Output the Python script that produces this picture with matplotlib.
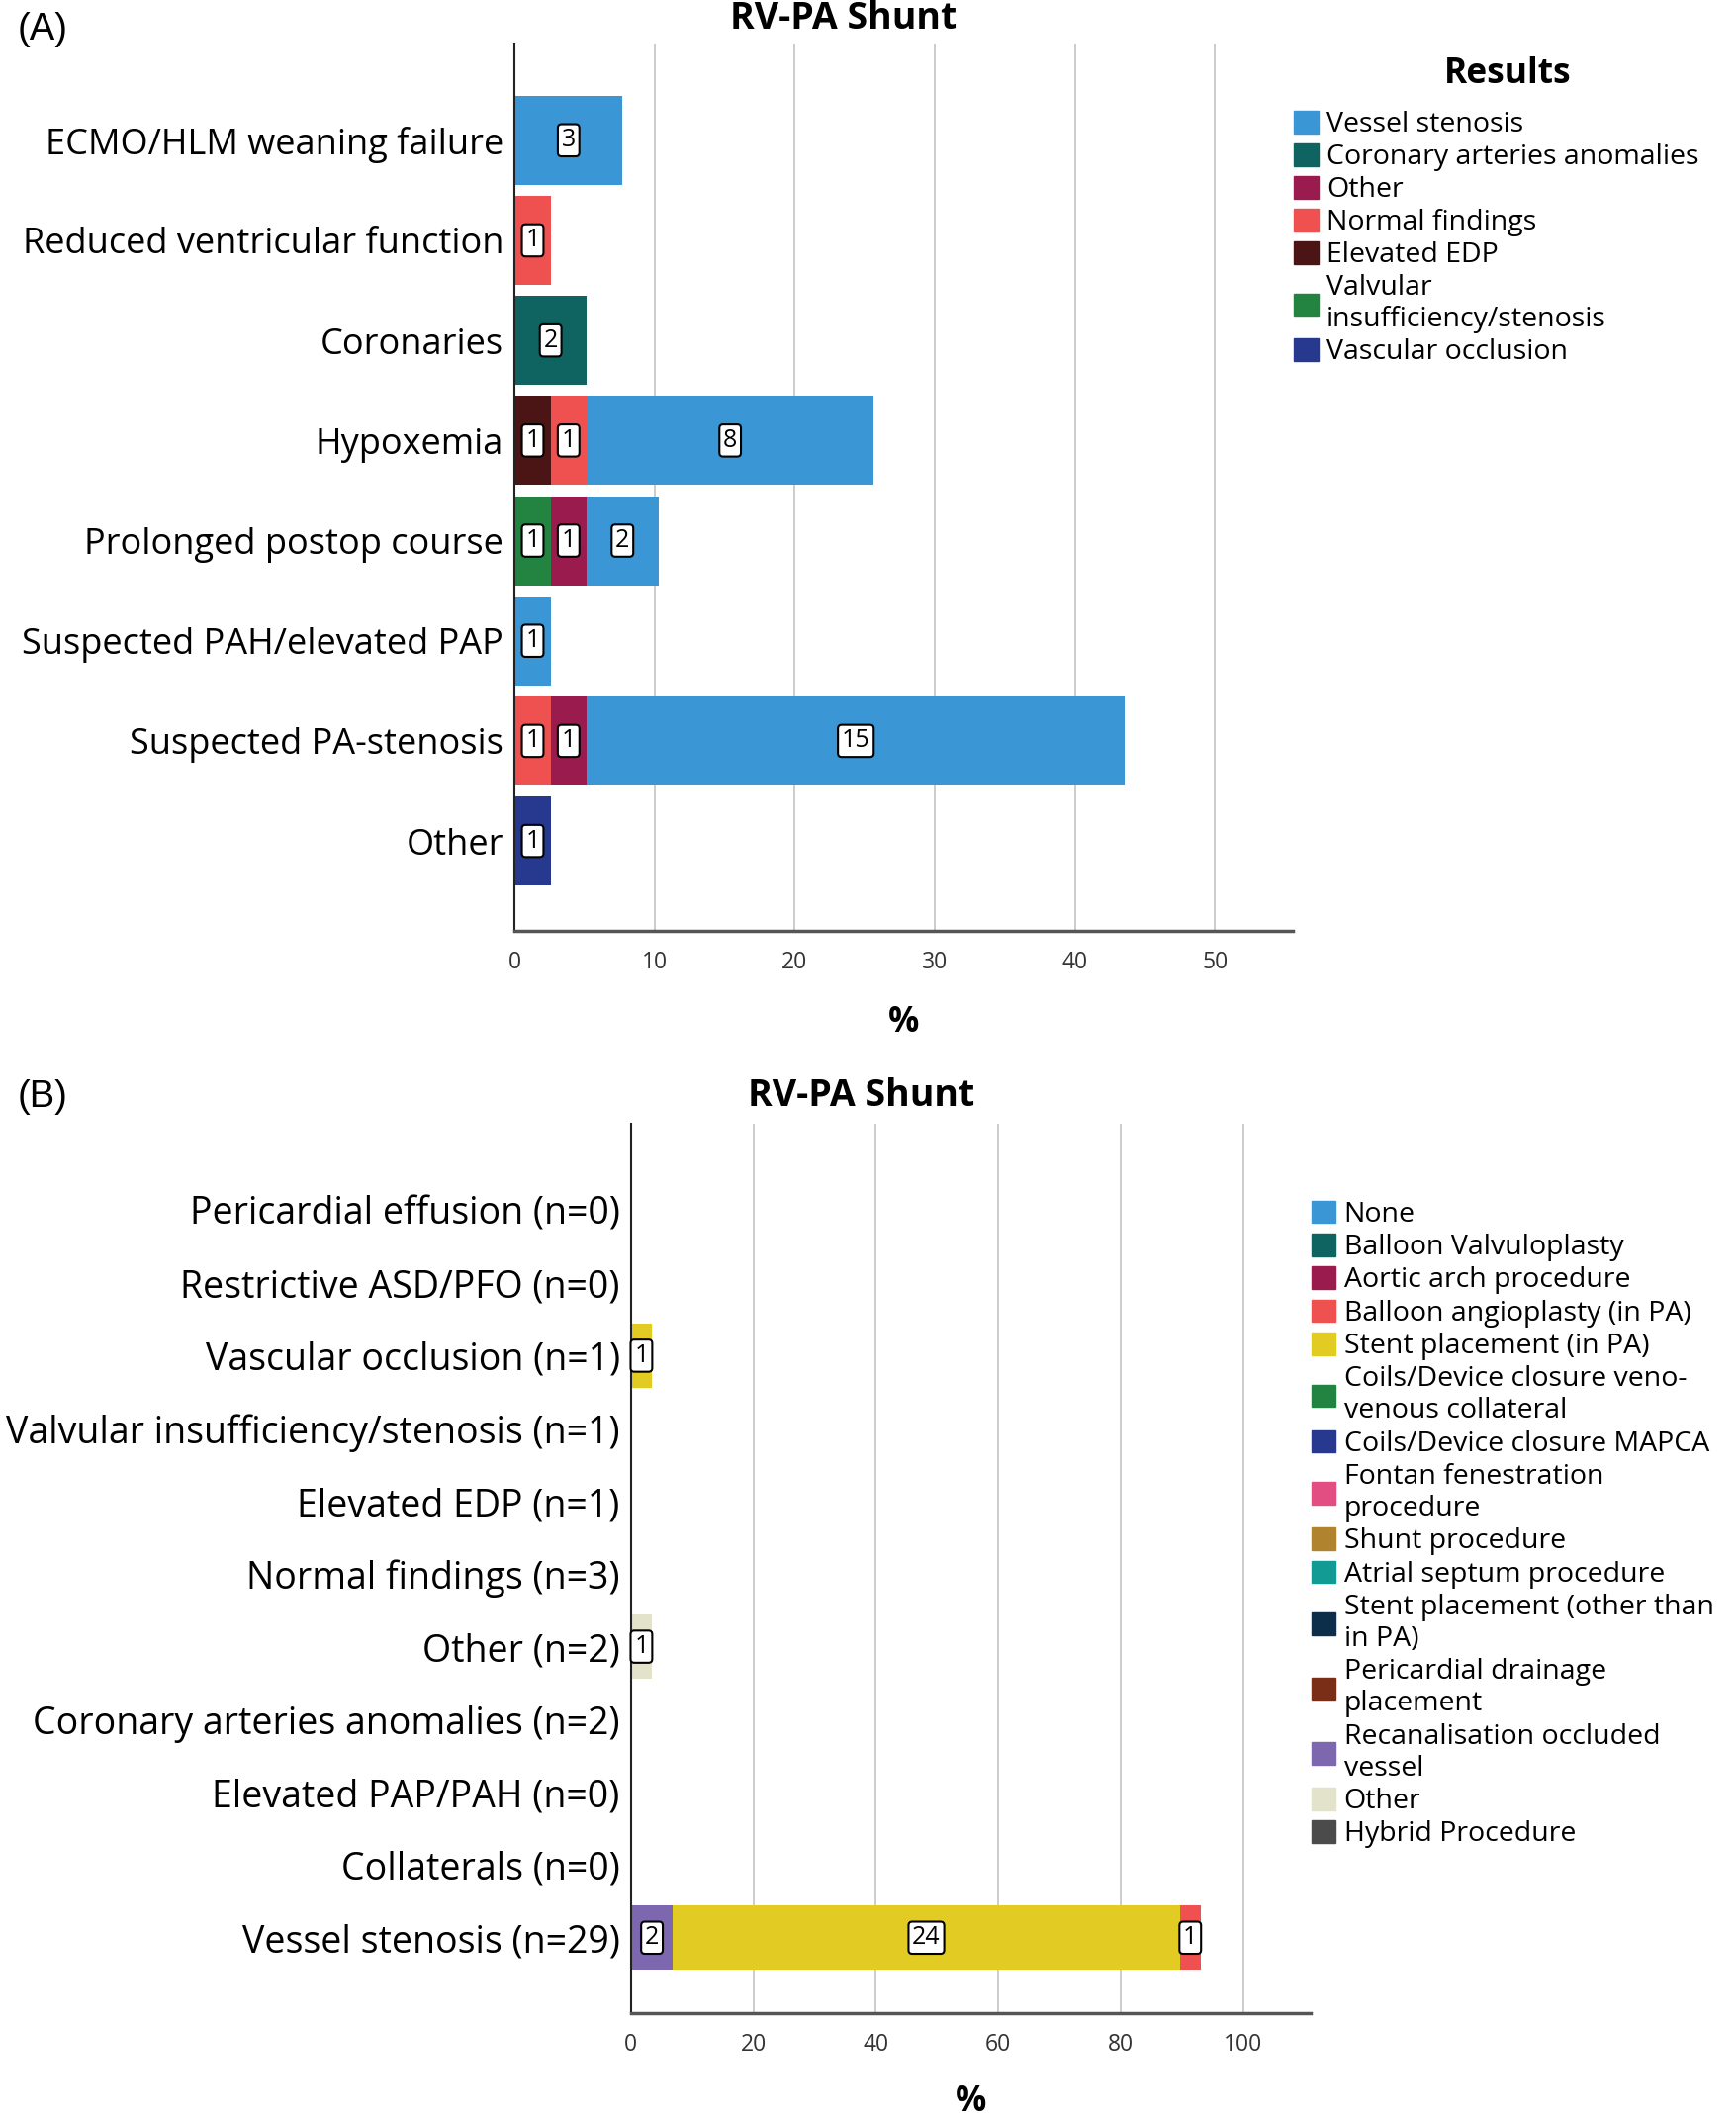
import numpy as np
import matplotlib
matplotlib.use('Agg')
import matplotlib.pyplot as plt
from matplotlib.patches import Patch

plt.rcParams['font.family'] = ['Open Sans', 'DejaVu Sans']

# ---- panel A data (counts per indication, stacked by result) ----
cats_a = ['ECMO/HLM weaning failure', 'Reduced ventricular function', 'Coronaries',
          'Hypoxemia', 'Prolonged postop course', 'Suspected PAH/elevated PAP',
          'Suspected PA-stenosis', 'Other']
results_a = ['Vessel stenosis', 'Coronary arteries anomalies', 'Other', 'Normal findings',
             'Elevated EDP', 'Valvular\ninsufficiency/stenosis', 'Vascular occlusion']
colors_a = ['#3a96d4', '#0f6462', '#9a1c4f', '#ef5050', '#4b1515', '#228440', '#26398f']
vessel_a = [3, 0, 0, 8, 2, 1, 15, 0]
coronary_a = [0, 0, 2, 0, 0, 0, 0, 0]
other_a = [0, 0, 0, 0, 1, 0, 1, 0]
normal_a = [0, 1, 0, 1, 0, 0, 1, 0]
edp_a = [0, 0, 0, 1, 0, 0, 0, 0]
valvular_a = [0, 0, 0, 0, 1, 0, 0, 0]
occlusion_a = [0, 0, 0, 0, 0, 0, 0, 1]
total_a = 39

# ---- panel B data (counts per result, stacked by procedure) ----
cats_b = ['Pericardial effusion (n=0)', 'Restrictive ASD/PFO (n=0)', 'Vascular occlusion (n=1)',
          'Valvular insufficiency/stenosis (n=1)', 'Elevated EDP (n=1)', 'Normal findings (n=3)',
          'Other (n=2)', 'Coronary arteries anomalies (n=2)', 'Elevated PAP/PAH (n=0)',
          'Collaterals (n=0)', 'Vessel stenosis (n=29)']
procs_b = ['None', 'Balloon Valvuloplasty', 'Aortic arch procedure', 'Balloon angioplasty (in PA)',
           'Stent placement (in PA)', 'Coils/Device closure veno-\nvenous collateral',
           'Coils/Device closure MAPCA', 'Fontan fenestration\nprocedure', 'Shunt procedure',
           'Atrial septum procedure', 'Stent placement (other than\nin PA)',
           'Pericardial drainage\nplacement', 'Recanalisation occluded\nvessel', 'Other',
           'Hybrid Procedure']
colors_b = ['#3a96d4', '#0f6462', '#9a1c4f', '#ef5050', '#e2cb22', '#228440', '#26398f',
            '#e24d82', '#b0842e', '#129a94', '#0d2e4b', '#7a2e18', '#7d68b0', '#e3e3cb', '#4b4b4b']
balloon_b = [0, 0, 0, 0, 0, 0, 0, 0, 0, 0, 1]
stent_b = [0, 0, 1, 0, 0, 0, 0, 0, 0, 0, 24]
recanal_b = [0, 0, 0, 0, 0, 0, 0, 0, 0, 0, 2]
otherproc_b = [0, 0, 0, 0, 0, 0, 1, 0, 0, 0, 0]
total_b = 29

fig = plt.figure(figsize=(17.55, 21.39), dpi=100)

tick_fs = 16.5
num_fs = 18


def style_axes(ax, lab_fs):
    ax.spines['top'].set_visible(False)
    ax.spines['right'].set_visible(False)
    ax.spines['left'].set_color('#222222')
    ax.spines['left'].set_linewidth(1.5)
    ax.spines['bottom'].set_color('#555555')
    ax.spines['bottom'].set_linewidth(2.5)
    ax.grid(axis='x', color='#c8c8c8', linewidth=1.3)
    ax.set_axisbelow(True)
    ax.tick_params(axis='y', length=0, pad=8, labelsize=lab_fs)
    ax.tick_params(axis='x', length=0, pad=14, labelsize=tick_fs, labelcolor='#333333')


def stacked(ax, series, colors, total):
    y = np.arange(len(series[0][1]))
    left = np.zeros(len(y))
    for (name, vals), col in zip(series, colors):
        vals = np.array(vals, dtype=float)
        pct = vals / total * 100
        ax.barh(y, pct, left=left, height=0.89, color=col, edgecolor='none')
        for i, v in enumerate(vals):
            if v > 0:
                ax.text(left[i] + pct[i] / 2, y[i], '%d' % v, ha='center', va='center',
                        fontsize=num_fs,
                        bbox=dict(boxstyle='round,pad=0.15,rounding_size=0.15',
                                  fc='white', ec='black', lw=1.5))
        left += pct


# ---------------- panel A ----------------
axA = fig.add_axes([0.2965, 0.560, 0.4485, 0.4196])
series_a = [('Vascular occlusion', occlusion_a), ('Valvular', valvular_a), ('Elevated EDP', edp_a),
            ('Normal findings', normal_a), ('Other', other_a), ('Coronary', coronary_a),
            ('Vessel stenosis', vessel_a)]
stacked(axA, series_a, colors_a[::-1], total_a)
axA.set_yticks(np.arange(len(cats_a)))
axA.set_yticklabels(cats_a)
axA.set_ylim(7.9, -0.97)
axA.set_xlim(0, 55.6)
axA.set_xticks([0, 10, 20, 30, 40, 50])
style_axes(axA, 26)
axA.set_xlabel('%', fontsize=25, fontweight='bold')
axA.xaxis.set_label_coords(0.5, -0.083)

handles_a = [Patch(color=c, label=l) for c, l in zip(colors_a, results_a)]
fig.legend(handles=handles_a, loc='upper left', bbox_to_anchor=(0.739, 0.953),
           frameon=False, fontsize=20.5,
           handlelength=0.85, handleheight=0.85, handletextpad=0.3,
           labelspacing=0.17, borderaxespad=0)
fig.text(0.8685, 0.965, 'Results', ha='center', va='center', fontsize=25.5, fontweight='bold')

fig.text(0.486, 0.991, 'RV-PA Shunt', ha='center', va='center', fontsize=27, fontweight='bold')
fig.text(0.01, 0.986, '(A)', ha='left', va='center', fontsize=27.5,
         family=['Liberation Sans', 'DejaVu Sans'])

# ---------------- panel B ----------------
axB = fig.add_axes([0.3634, 0.0485, 0.3914, 0.4205])
zero_b = [0] * len(cats_b)
data_b = {'Balloon angioplasty (in PA)': balloon_b, 'Stent placement (in PA)': stent_b,
          'Recanalisation occluded\nvessel': recanal_b, 'Other': otherproc_b}
series_b = [(p, data_b.get(p, zero_b)) for p in procs_b][::-1]
stacked(axB, series_b, colors_b[::-1], total_b)
axB.set_yticks(np.arange(len(cats_b)))
axB.set_yticklabels(cats_b)
axB.set_ylim(11.04, -1.19)
axB.set_xlim(0, 111)
axB.set_xticks([0, 20, 40, 60, 80, 100])
style_axes(axB, 27)
axB.set_xlabel('%', fontsize=25, fontweight='bold')
axB.xaxis.set_label_coords(0.5, -0.08)

handles_b = [Patch(color=c, label=l) for c, l in zip(colors_b, procs_b)]
fig.legend(handles=handles_b, loc='upper left', bbox_to_anchor=(0.749, 0.438),
           frameon=False, fontsize=20.5,
           handlelength=0.85, handleheight=0.85, handletextpad=0.3,
           labelspacing=0.18, borderaxespad=0)

fig.text(0.496, 0.482, 'RV-PA Shunt', ha='center', va='center', fontsize=27, fontweight='bold')
fig.text(0.01, 0.4815, '(B)', ha='left', va='center', fontsize=27.5,
         family=['Liberation Sans', 'DejaVu Sans'])

fig.savefig('out.png', dpi=100, facecolor='white')
